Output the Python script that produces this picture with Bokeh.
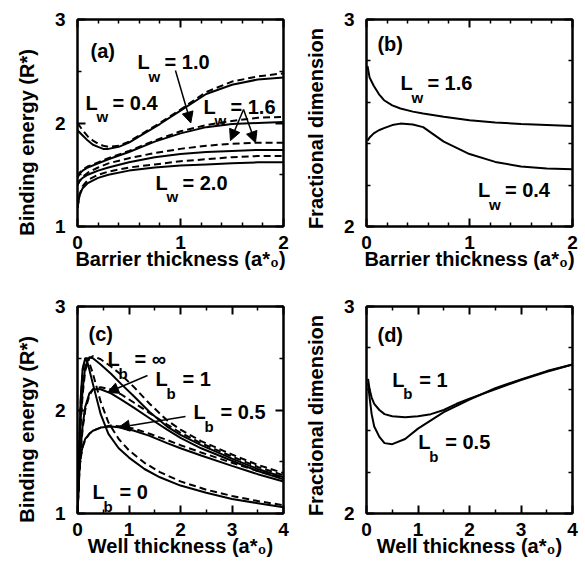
from bokeh.plotting import figure
from bokeh.layouts import gridplot
from bokeh.models import Range1d, FixedTicker, LinearAxis, Label, Arrow, NormalHead
from bokeh.embed import file_html
from bokeh.resources import INLINE

FONT = "Liberation Sans"

# ---------------- data ----------------
# (a) binding energy vs barrier thickness
a_x = [0, 0.02, 0.05, 0.1, 0.2, 0.3, 0.5, 0.75, 1.0, 1.25, 1.5, 1.75, 2.0]
a_lw10_solid = [1.47, 1.51, 1.54, 1.57, 1.61, 1.65, 1.72, 1.82, 1.90, 1.96, 1.99, 2.00, 2.01]
a_lw10_dash = [1.48, 1.52, 1.55, 1.58, 1.62, 1.66, 1.73, 1.83, 1.92, 1.98, 2.02, 2.05, 2.06]
a_lw16_solid = [1.40, 1.44, 1.47, 1.50, 1.54, 1.57, 1.62, 1.67, 1.70, 1.72, 1.73, 1.74, 1.74]
a_lw16_dash = [1.40, 1.44, 1.48, 1.52, 1.57, 1.61, 1.66, 1.71, 1.75, 1.78, 1.80, 1.81, 1.81]
a_lw20_solid = [1.18, 1.30, 1.37, 1.42, 1.47, 1.50, 1.54, 1.57, 1.59, 1.60, 1.61, 1.62, 1.62]
a_lw20_dash = [1.18, 1.31, 1.39, 1.45, 1.50, 1.53, 1.57, 1.60, 1.63, 1.65, 1.67, 1.68, 1.68]
a_x04 = [0, 0.05, 0.1, 0.15, 0.2, 0.25, 0.3, 0.4, 0.5, 0.6, 0.8, 1.0, 1.25, 1.5, 1.75, 2.0]
a_lw04_solid = [1.93, 1.88, 1.83, 1.79, 1.77, 1.75, 1.75, 1.77, 1.81, 1.87, 1.99, 2.12, 2.28, 2.37, 2.42, 2.44]
a_lw04_dash = [2.00, 1.93, 1.87, 1.83, 1.80, 1.78, 1.77, 1.78, 1.82, 1.88, 2.00, 2.13, 2.30, 2.40, 2.45, 2.48]

# (b) fractional dimension vs barrier thickness
b_x = [0.01, 0.03, 0.07, 0.12, 0.17, 0.25, 0.33, 0.45, 0.55, 0.75, 1.0, 1.25, 1.5, 1.75, 2.0]
b_lw16 = [2.775, 2.72, 2.68, 2.64, 2.61, 2.585, 2.57, 2.555, 2.546, 2.53, 2.513, 2.503, 2.495, 2.49, 2.485]
b_lw04 = [2.415, 2.43, 2.45, 2.465, 2.475, 2.49, 2.497, 2.493, 2.48, 2.41, 2.35, 2.312, 2.29, 2.28, 2.276]

# (c) binding energy vs well thickness
c_x = [0, 0.03, 0.06, 0.1, 0.15, 0.23, 0.3, 0.45, 0.65, 0.85, 1.1, 1.4, 1.74, 2.0, 2.4, 3.0, 3.5, 4.0]
c_lbinf_solid = [1.0, 1.5, 1.9, 2.2, 2.42, 2.51, 2.5, 2.44, 2.35, 2.25, 2.13, 1.98, 1.84, 1.76, 1.66, 1.53, 1.43, 1.35]
c_lbinf_dash = [1.0, 1.45, 1.85, 2.15, 2.38, 2.5, 2.52, 2.49, 2.42, 2.34, 2.22, 2.06, 1.9, 1.81, 1.7, 1.57, 1.47, 1.39]
c_lb1_solid = [1.0, 1.35, 1.62, 1.85, 2.03, 2.16, 2.2, 2.2, 2.16, 2.1, 2.02, 1.92, 1.81, 1.73, 1.63, 1.51, 1.41, 1.33]
c_lb1_dash = [1.0, 1.32, 1.58, 1.82, 2.0, 2.14, 2.2, 2.22, 2.2, 2.15, 2.07, 1.97, 1.86, 1.78, 1.68, 1.55, 1.45, 1.37]
c_lb05_solid = [1.0, 1.4, 1.55, 1.65, 1.72, 1.77, 1.8, 1.83, 1.84, 1.83, 1.8, 1.75, 1.68, 1.63, 1.56, 1.46, 1.38, 1.31]
c_lb05_dash = [1.0, 1.38, 1.53, 1.64, 1.71, 1.77, 1.8, 1.83, 1.85, 1.84, 1.82, 1.77, 1.71, 1.66, 1.59, 1.49, 1.41, 1.34]
c_x0 = [0, 0.03, 0.06, 0.1, 0.15, 0.2, 0.3, 0.45, 0.6, 0.8, 1.0, 1.3, 1.6, 2.0, 2.5, 3.0, 3.5, 4.0]
c_lb0_solid = [1.0, 1.6, 2.1, 2.4, 2.5, 2.45, 2.25, 1.96, 1.77, 1.63, 1.54, 1.43, 1.35, 1.27, 1.2, 1.14, 1.1, 1.06]
c_lb0_dash = [1.0, 1.55, 2.05, 2.38, 2.5, 2.5, 2.35, 2.08, 1.88, 1.72, 1.61, 1.49, 1.40, 1.31, 1.23, 1.17, 1.12, 1.08]

# (d) fractional dimension vs well thickness
d_x = [0.03, 0.06, 0.1, 0.15, 0.25, 0.35, 0.5, 0.75, 1.0, 1.25, 1.5, 1.75, 2.0, 2.5, 3.0, 3.5, 4.0]
d_lb1 = [2.65, 2.6, 2.56, 2.53, 2.5, 2.48, 2.47, 2.465, 2.47, 2.48, 2.5, 2.53, 2.555, 2.6, 2.645, 2.685, 2.72]
d_lb05 = [2.63, 2.56, 2.48, 2.42, 2.37, 2.34, 2.335, 2.36, 2.41, 2.45, 2.49, 2.52, 2.55, 2.605, 2.648, 2.688, 2.72]

# ticks
x_ticks_barrier = [0, 1, 2]
x_minor_barrier = [0.2, 0.4, 0.6, 0.8, 1.2, 1.4, 1.6, 1.8]
x_ticks_well = [0, 1, 2, 3, 4]
x_minor_well = [0.5, 1.5, 2.5, 3.5]
y_ticks_be = [1, 2, 3]
y_minor_be = [1.5, 2.5]
y_ticks_fd = [2, 3]
y_minor_fd = [2.2, 2.4, 2.6, 2.8]


def style_axis(ax, ticks, minor, labels=True):
    ax.ticker = FixedTicker(ticks=ticks, minor_ticks=minor)
    ax.axis_line_color = "black"
    ax.axis_line_width = 2
    ax.major_tick_line_color = "black"
    ax.major_tick_line_width = 2
    ax.minor_tick_line_color = "black"
    ax.minor_tick_line_width = 1.5
    ax.major_tick_in = 8
    ax.major_tick_out = 0
    ax.minor_tick_in = 4
    ax.minor_tick_out = 0
    if labels:
        ax.major_label_text_font = FONT
        ax.major_label_text_font_style = "bold"
        ax.major_label_text_font_size = "19px"
        ax.major_label_text_color = "black"
        ax.axis_label_text_font = FONT
        ax.axis_label_text_font_style = "bold"
        ax.axis_label_text_font_size = "20px"
        ax.axis_label_text_color = "black"
    else:
        ax.major_label_overrides = {t: "" for t in ticks}
        ax.major_label_standoff = 0
        ax.axis_label = None


def make_fig(xr, yr, xt, xm, yt, ym, xlabel, ylabel, bl, br, bt, bb):
    p = figure(x_range=Range1d(*xr), y_range=Range1d(*yr),
               frame_width=206, frame_height=207,
               min_border_left=bl, min_border_right=br,
               min_border_top=bt, min_border_bottom=bb,
               output_backend="svg", toolbar_location=None)
    p.xgrid.visible = False
    p.ygrid.visible = False
    p.outline_line_color = "black"
    p.outline_line_width = 2
    p.background_fill_color = "white"
    p.border_fill_color = "white"
    p.xaxis.axis_label = xlabel
    p.yaxis.axis_label = ylabel
    style_axis(p.xaxis[0], xt, xm)
    style_axis(p.yaxis[0], yt, ym)
    p.xaxis[0].major_label_standoff = 9
    p.xaxis[0].axis_label_standoff = -4
    p.yaxis[0].major_label_standoff = 12
    p.yaxis[0].axis_label_standoff = 14
    top = LinearAxis()
    style_axis(top, xt, xm, labels=False)
    p.add_layout(top, "above")
    right = LinearAxis()
    style_axis(right, yt, ym, labels=False)
    p.add_layout(right, "right")
    return p


def txt(p, x, y, s, size="20px", dx=0, dy=0):
    p.add_layout(Label(x=x, y=y, x_offset=dx, y_offset=dy, text=s,
                       text_font=FONT, text_font_style="bold",
                       text_font_size=size, text_color="black",
                       text_align="left", text_baseline="middle"))


def sub_label(p, x, y, main, sub, rest):
    txt(p, x, y, main)
    txt(p, x, y, sub, size="15px", dx=11, dy=-14)
    txt(p, x, y, rest, dx=27)


def arrow(p, x0, y0, x1, y1):
    p.add_layout(Arrow(end=NormalHead(size=11, fill_color="black", line_color="black"),
                       x_start=x0, y_start=y0, x_end=x1, y_end=y1,
                       line_color="black", line_width=1.5))


LW = 2
DASH = "7 4"
NB = "\u00a0"
XB = "Barrier thickness (a*\u2080)"
XW = "Well thickness (a*\u2080)"
YB = "Binding energy (R*)" + NB * 7
YF = "Fractional dimension" + NB * 2

# ---- (a)
pa = make_fig((0, 2), (1, 3), x_ticks_barrier, x_minor_barrier, y_ticks_be, y_minor_be,
              XB, YB, 77, 7, 19, 62)
for ys in [a_lw10_solid, a_lw16_solid, a_lw20_solid]:
    pa.line(a_x, ys, line_color="black", line_width=LW)
for ys in [a_lw10_dash, a_lw16_dash, a_lw20_dash]:
    pa.line(a_x, ys, line_color="black", line_width=LW, line_dash=DASH)
pa.line(a_x04, a_lw04_solid, line_color="black", line_width=LW)
pa.line(a_x04, a_lw04_dash, line_color="black", line_width=LW, line_dash=DASH)
txt(pa, 0.126, 2.70, "(a)")
sub_label(pa, 0.583, 2.585, "L", "w", "= 1.0")
sub_label(pa, 0.078, 2.198, "L", "w", "= 0.4")
sub_label(pa, 1.223, 2.159, "L", "w", "= 1.6")
sub_label(pa, 0.757, 1.425, "L", "w", "= 2.0")
arrow(pa, 0.951, 2.507, 1.10, 2.0)
arrow(pa, 1.612, 2.13, 1.485, 1.83)
arrow(pa, 1.612, 2.13, 1.728, 1.81)

# ---- (b)
pb = make_fig((0, 2), (2, 3), x_ticks_barrier, x_minor_barrier, y_ticks_fd, y_minor_fd,
              XB, YF, 76, 11, 19, 62)
pb.line(b_x, b_lw16, line_color="black", line_width=LW)
pb.line(b_x, b_lw04, line_color="black", line_width=LW)
txt(pb, 0.106, 2.88, "(b)")
sub_label(pb, 0.329, 2.691, "L", "w", "= 1.6")
sub_label(pb, 1.082, 2.176, "L", "w", "= 0.4")

# ---- (c)
pc = make_fig((0, 4), (1, 3), x_ticks_well, x_minor_well, y_ticks_be, y_minor_be,
              XW, YB, 77, 7, 18, 63)
for ys in [c_lbinf_solid, c_lb1_solid, c_lb05_solid]:
    pc.line(c_x, ys, line_color="black", line_width=LW)
for ys in [c_lbinf_dash, c_lb1_dash, c_lb05_dash]:
    pc.line(c_x, ys, line_color="black", line_width=LW, line_dash=DASH)
pc.line(c_x0, c_lb0_solid, line_color="black", line_width=LW)
pc.line(c_x0, c_lb0_dash, line_color="black", line_width=LW, line_dash=DASH)
txt(pc, 0.214, 2.73, "(c)")
sub_label(pc, 0.583, 2.488, "L", "b", "= \u221e")
sub_label(pc, 1.515, 2.295, "L", "b", "= 1")
sub_label(pc, 2.252, 1.976, "L", "b", "= 0.5")
sub_label(pc, 0.291, 1.203, "L", "b", "= 0")
arrow(pc, 1.359, 2.333, 0.583, 2.169)
arrow(pc, 2.097, 1.937, 0.796, 1.831)

# ---- (d)
pd_ = make_fig((0, 4), (2, 3), x_ticks_well, x_minor_well, y_ticks_fd, y_minor_fd,
               XW, YF, 76, 11, 18, 63)
pd_.line(d_x, d_lb1, line_color="black", line_width=LW)
pd_.line(d_x, d_lb05, line_color="black", line_width=LW)
txt(pd_, 0.213, 2.86, "(d)")
sub_label(pd_, 0.502, 2.647, "L", "b", "= 1")
sub_label(pd_, 1.005, 2.343, "L", "b", "= 0.5")

grid = gridplot([[pa, pb], [pc, pd_]], toolbar_location=None)

open("out.html", "w").write(file_html(grid, INLINE))
